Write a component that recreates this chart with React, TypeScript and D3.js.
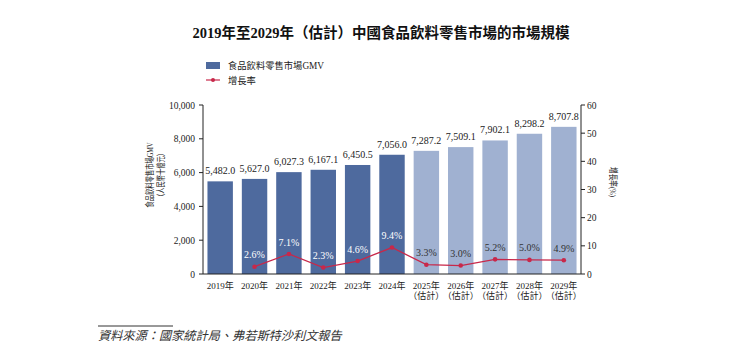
import React from "react";
import * as d3 from "d3";

const categories = ["2019年", "2020年", "2021年", "2022年", "2023年", "2024年", "2025年", "2026年", "2027年", "2028年", "2029年"];
const estimated = [false, false, false, false, false, false, true, true, true, true, true];
const gmv = [5482.0, 5627.0, 6027.3, 6167.1, 6450.5, 7056.0, 7287.2, 7509.1, 7902.1, 8298.2, 8707.8];
const growth: (number | null)[] = [null, 2.6, 7.1, 2.3, 4.6, 9.4, 3.3, 3.0, 5.2, 5.0, 4.9];
const leftTicks = [0, 2000, 4000, 6000, 8000, 10000];
const rightTicks = [0, 10, 20, 30, 40, 50, 60];

const W = 734, H = 352;
const serif = "'Liberation Serif', 'Noto Sans CJK TC', serif";
const DARK = "#4e6a9e", LIGHT = "#a0b1d1", RED = "#c8284a", TXT = "#222";

export default function App() {
  const x0 = 203, x1 = 581, yTop = 105, yBot = 274;
  const x = d3.scaleBand<string>().domain(categories).range([x0, x1]).paddingInner(0.26).paddingOuter(0.13);
  const yL = d3.scaleLinear().domain([0, 10000]).range([yBot, yTop]);
  const yR = d3.scaleLinear().domain([0, 60]).range([yBot, yTop]);
  const fmt = d3.format(",.1f");
  const pts = categories.map((c, i) => ({ c, i, v: growth[i] })).filter(d => d.v != null) as { c: string; i: number; v: number }[];
  const line = d3.line<{ c: string; v: number }>().x(d => x(d.c)! + x.bandwidth() / 2).y(d => yR(d.v));

  return (
    <svg width={W} height={H} style={{ position: "absolute", left: 0, top: 0, background: "#fff" }} fontFamily={serif}>
      <text x={381} y={38} textAnchor="middle" fontSize={14.5} fontWeight="bold" fill="#111">2019年至2029年（估計）中國食品飲料零售市場的市場規模</text>

      {/* legend */}
      <rect x={206} y={62} width={14} height={7} fill={DARK} />
      <text x={228} y={69} fontSize={9.3} fill={TXT}>食品飲料零售市場GMV</text>
      <line x1={206} x2={220} y1={80} y2={80} stroke={RED} strokeWidth={1.2} />
      <circle cx={213} cy={80} r={2} fill={RED} />
      <text x={228} y={83.5} fontSize={9.3} fill={TXT}>增長率</text>

      {/* bars */}
      {categories.map((c, i) => (
        <g key={c}>
          <rect x={x(c)} y={yL(gmv[i])} width={x.bandwidth()} height={yBot - yL(gmv[i])} fill={estimated[i] ? LIGHT : DARK} />
          <text x={x(c)! + x.bandwidth() / 2} y={yL(gmv[i]) - 7} textAnchor="middle" fontSize={10} fill={TXT}>{fmt(gmv[i])}</text>
        </g>
      ))}

      {/* growth line */}
      <path d={line(pts) || ""} fill="none" stroke={RED} strokeWidth={1.3} />
      {pts.map(d => (
        <g key={d.c}>
          <circle cx={x(d.c)! + x.bandwidth() / 2} cy={yR(d.v)} r={2.3} fill={RED} />
          <text x={x(d.c)! + x.bandwidth() / 2} y={yR(d.v) - 8.5} textAnchor="middle" fontSize={10} fill={estimated[d.i] ? "#333" : "#fff"}>{d.v.toFixed(1)}%</text>
        </g>
      ))}

      {/* axes */}
      <line x1={x0} x2={x0} y1={yTop} y2={yBot} stroke="#222" strokeWidth={1} />
      <line x1={x1} x2={x1} y1={yTop} y2={yBot} stroke="#222" strokeWidth={1} />
      <line x1={x0} x2={x1} y1={yBot} y2={yBot} stroke="#222" strokeWidth={1} />
      {leftTicks.map(t => (
        <g key={t}>
          <line x1={x0 - 4} x2={x0} y1={yL(t)} y2={yL(t)} stroke="#222" />
          <text x={x0 - 8} y={yL(t) + 3.5} textAnchor="end" fontSize={9.5} fill={TXT}>{d3.format(",")(t)}</text>
        </g>
      ))}
      {rightTicks.map(t => (
        <g key={t}>
          <line x1={x1} x2={x1 + 4} y1={yR(t)} y2={yR(t)} stroke="#222" />
          <text x={x1 + 6} y={yR(t) + 3.5} textAnchor="start" fontSize={9.5} fill={TXT}>{t}</text>
        </g>
      ))}
      {categories.map((c, i) => (
        <g key={c}>
          <text x={x(c)! + x.bandwidth() / 2} y={289} textAnchor="middle" fontSize={9} fill={TXT}>{c}</text>
          {estimated[i] && <text x={x(c)! + x.bandwidth() / 2} y={298.5} textAnchor="middle" fontSize={9} fill={TXT}>（估計）</text>}
        </g>
      ))}

      {/* axis titles */}
      <g transform="translate(153,175) rotate(-90)">
        <text x={0} y={0} textAnchor="middle" fontSize={9} fill={TXT} textLength={65} lengthAdjust="spacingAndGlyphs">食品飲料零售市場GMV</text>
        <text x={0} y={11} textAnchor="middle" fontSize={9} fill={TXT} textLength={50} lengthAdjust="spacingAndGlyphs">（人民幣十億元）</text>
      </g>
      <g transform="translate(610,182) rotate(90)">
        <text x={0} y={0} textAnchor="middle" fontSize={9} fill={TXT} textLength={30} lengthAdjust="spacingAndGlyphs">增長率(%)</text>
      </g>

      {/* source */}
      <line x1={98} x2={173} y1={326} y2={326} stroke="#333" strokeWidth={1} />
      <text x={98} y={340} fontSize={12.2} fontStyle="italic" fill="#333">資料來源：國家統計局、弗若斯特沙利文報告</text>
    </svg>
  );
}
